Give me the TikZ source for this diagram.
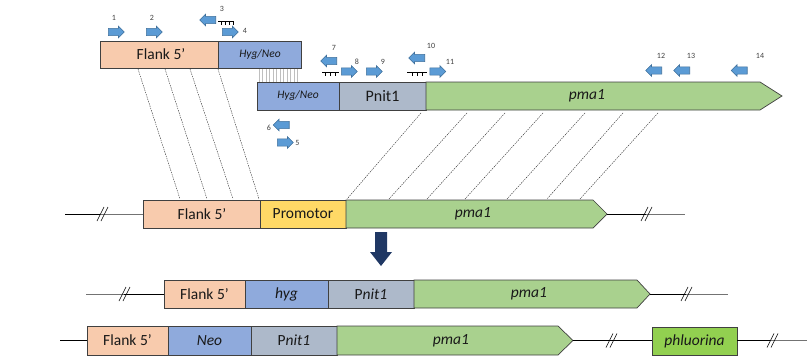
\documentclass[tikz,border=0pt]{standalone}
\usepackage{fontspec}
\setmainfont{Carlito}
\usetikzlibrary{shapes.arrows}
\definecolor{flank}{HTML}{F8CBAD}
\definecolor{hyg}{HTML}{8FAADC}
\definecolor{pnit}{HTML}{ADB9CA}
\definecolor{pma}{HTML}{A9D18E}
\definecolor{prom}{HTML}{FFD966}
\definecolor{phl}{HTML}{92D050}
\definecolor{prim}{HTML}{5B9BD5}
\definecolor{primline}{HTML}{41719C}
\definecolor{navy}{HTML}{203864}
\newcommand\brkmark[2]{%
  \draw[black, line width=0.6pt] (#1-6,#2+7) -- (#1+1,#2-7) (#1-2,#2+7) -- (#1+5,#2-7);}
\newcommand\combmark[4]{% x1 x2 y ticks
  \draw[black, line width=0.6pt] (#1,#3) -- (#2,#3);
  \foreach \t in {#4} \draw[black, line width=0.6pt] (\t,#3) -- (\t,#3+4);}
\begin{document}
\begin{tikzpicture}[x=1pt,y=-1pt,
  box/.style={draw=black!75, line width=0.7pt},
  lbl/.style={font=\fontsize{15.5}{16}\selectfont, inner sep=0pt, text=black!90},
  ilbl/.style={font=\fontsize{15.5}{16}\selectfont\itshape, inner sep=0pt, text=black!90},
  slbl/.style={font=\fontsize{11.5}{12}\selectfont\itshape, inner sep=0pt, text=black!90},
  num/.style={font=\fontsize{8}{9}\selectfont, inner sep=0pt, text=black!75},
  pR/.style={single arrow, draw=primline, fill=prim, line width=0.6pt,
    minimum height=16pt, inner xsep=0pt, inner ysep=3.3pt,
    single arrow head extend=2.2pt},
  pL/.style={pR, shape border rotate=180},
  dl/.style={dash pattern=on 1.4pt off 1pt, line width=0.4pt, black!85},
  gl/.style={line width=0.7pt, black!55},
  bl/.style={line width=0.7pt, black}]
\useasboundingbox (0,0) rectangle (807,356);

% ---------- dashed homology lines ----------
\foreach \a/\b in {138/180,165/207,190/233,218/259}
  \draw[dl] (\a,69) -- (\b,199);
\foreach \a/\b in {421/347,467/389,505/427,543/465,585/507,623/547,658/580}
  \draw[dl] (\a,113) -- (\b,199);

% ---------- row 1 ----------
\draw[box, fill=flank] (100,41) rectangle (218,68);
\draw[box, fill=hyg] (218,41) rectangle (301,68);
\node[lbl] (f1) at (161,54.5) {Flank 5’};
\node[slbl] (h1) at (260,54.5) {Hyg/Neo};
\foreach \x in {259,262.5,...,299}
  \draw[black!25, line width=0.35pt] (\x,69) -- (\x,82);

% ---------- row 2 ----------
\draw[box, fill=hyg] (257,82) rectangle (339,110);
\draw[box, fill=pnit] (339,82) rectangle (426,110);
\draw[box, fill=pma] (426,82) -- (760,82) -- (782,96) -- (760,110) -- (426,110) -- cycle;
\node[slbl] (h2) at (298,96) {Hyg/Neo};
\node[lbl, font=\fontsize{16}{17}\selectfont] (n2) at (382.5,96) {Pnit1};
\node[ilbl] (m2) at (587,96) {pma1};

% ---------- primers ----------
\node[pR] (p1) at (114.5,32) {};  \node[num] (l1) at (114,18) {1};
\node[pR] (p2) at (152.5,32) {};  \node[num] (l2) at (152,18) {2};
\node[pL] (p3) at (209.5,20) {};  \node[num] (l3) at (222,9) {3};
\combmark{218}{234}{21}{221,225,229,233}
\node[pR] (p4) at (228.5,32) {};  \node[num] (l4) at (245,31) {4};
\node[pL] (p7) at (330.5,61) {};  \node[num] (l7) at (334,48) {7};
\combmark{322}{339}{72}{325,330,335}
\node[pR] (p8) at (347.5,71.5) {}; \node[num] (l8) at (357,62) {8};
\node[pR] (p9) at (372.5,71.5) {}; \node[num] (l9) at (383,62) {9};
\node[pL] (p10) at (418.5,58) {}; \node[num] (l10) at (431,46) {10};
\combmark{407}{427}{72}{412,417,422}
\node[pR] (p11) at (436,71.5) {}; \node[num] (l11) at (450,62) {11};
\node[pL] (p6) at (283,125) {}; \node[num] (l6) at (269,128) {6};
\node[pR] (p5) at (283.5,142.5) {}; \node[num] (l5) at (297.5,143) {5};
\node[pL] (p12) at (655.5,70.5) {}; \node[num] (l12) at (661,56) {12};
\node[pL] (p13) at (683.5,70.5) {}; \node[num] (l13) at (691,56) {13};
\node[pL] (p14) at (741,70.5) {}; \node[num] (l14) at (760,56) {14};

% ---------- row 3 ----------
\draw[bl] (65,214) -- (100,214);
\draw[gl] (100,214) -- (143,214);
\brkmark{103}{214}
\draw[box, fill=flank] (143,200) rectangle (260,228);
\draw[box, fill=prom] (260,200) rectangle (346,228);
\draw[box, fill=pma] (346,200) -- (593,200) -- (607,214) -- (593,228) -- (346,228) -- cycle;
\draw[bl] (607,214) -- (646,214);
\draw[gl] (646,214) -- (685,214);
\brkmark{647}{214}
\node[lbl] (f3) at (202,214) {Flank 5’};
\node[lbl] (pr3) at (303,214) {Promotor};
\node[ilbl] (m3) at (473,214) {pma1};

% ---------- down arrow ----------
\fill[navy] (375,232) -- (387,232) -- (387,252) -- (392,252) -- (381,266) -- (370,252) -- (375,252) -- cycle;

% ---------- row 4 ----------
\draw[gl] (86,294) -- (124,294);
\draw[bl] (124,294) -- (164,294);
\brkmark{125}{294}
\draw[box, fill=flank] (164,280) rectangle (245,308);
\draw[box, fill=hyg] (245,280) rectangle (328,308);
\draw[box, fill=pnit] (328,280) rectangle (414,308);
\draw[box, fill=pma] (414,280) -- (637,280) -- (650,294) -- (637,308) -- (414,308) -- cycle;
\draw[bl] (650,294) -- (686,294);
\draw[gl] (686,294) -- (728,294);
\brkmark{687}{294}
\node[lbl] (f4) at (204.5,294) {Flank 5’};
\node[ilbl] (h4) at (286.5,294) {hyg};
\node[lbl] (n4) at (371,294) {P\textit{nit1}};
\node[ilbl] (m4) at (529,294) {pma1};

% ---------- row 5 ----------
\draw[bl] (60,340.5) -- (87,340.5);
\draw[box, fill=flank] (87,326) rectangle (168,355);
\draw[box, fill=hyg] (168,326) rectangle (251,355);
\draw[box, fill=pnit] (251,326) rectangle (337,355);
\draw[box, fill=pma] (337,326) -- (558,326) -- (573,340.5) -- (558,355) -- (337,355) -- cycle;
\draw[bl] (573,340.5) -- (652,340.5);
\brkmark{612}{340.5}
\draw[box, fill=phl] (652,327) rectangle (737,355);
\draw[bl] (737,340.5) -- (770,340.5);
\draw[gl] (770,340.5) -- (807,340.5);
\brkmark{773}{340.5}
\node[lbl] (f5) at (127.5,340.5) {Flank 5’};
\node[ilbl] (ne5) at (209.5,340.5) {Neo};
\node[lbl] (n5) at (294,340.5) {P\textit{nit1}};
\node[ilbl] (m5) at (451,340.5) {pma1};
\node[ilbl] (ph5) at (694.5,341) {phluorina};
\end{tikzpicture}
\end{document}
